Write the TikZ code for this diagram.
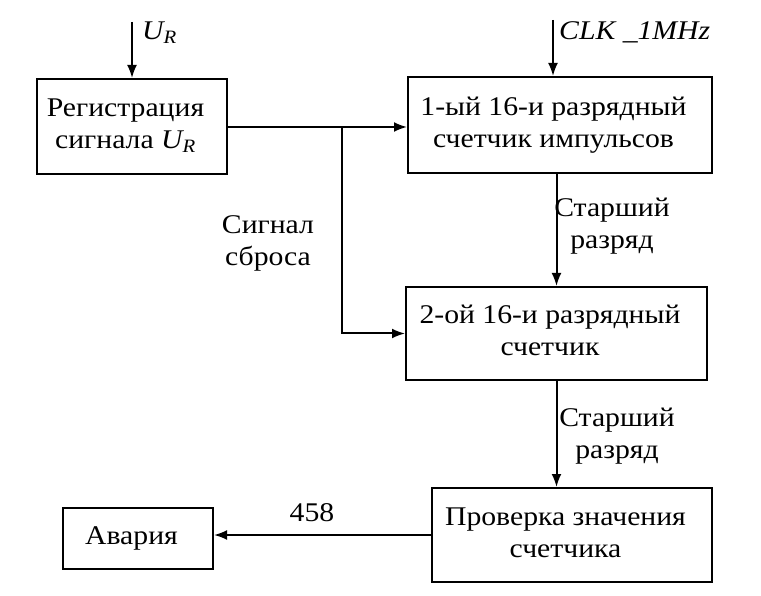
\documentclass[tikz,border=0pt]{standalone}
\usepackage{fontspec}
\usepackage{graphicx}
\setmainfont{Liberation Serif}
\usetikzlibrary{arrows.meta}
% text of the scan is a bit wider than Times
\newcommand{\wtext}[1]{\scalebox{1.1}[1]{\begin{tabular}{@{}c@{}}#1\end{tabular}}}
\begin{document}
\begin{tikzpicture}[x=1pt,y=-1pt,
    block/.style={draw, line width=2pt, inner sep=0pt, execute at begin node={\hspace*{-13pt}}},
    conn/.style={line width=2pt, -{Latex[length=13pt,width=10pt]}},
    lbl/.style={inner sep=0pt},
    font=\fontsize{27}{32}\selectfont]

    \useasboundingbox (0,0) rectangle (761,596);

    %draw blocks:
    \node[block, minimum width=190pt, minimum height=95pt] (reg) at (132,126.5) {\wtext{Регистрация\\сигнала \textit{U\textsubscript{R}}}};
    \node[block, minimum width=304pt, minimum height=96pt] (cnta) at (560,125) {\wtext{1-ый 16-и разрядный\\счетчик импульсов}};
    \node[block, minimum width=301pt, minimum height=93pt] (cntb) at (556.5,333.5) {\wtext{2-ой 16-и разрядный\\счетчик}};
    \node[block, minimum width=280pt, minimum height=94pt] (check) at (572,535) {\wtext{Проверка значения\\счетчика}};
    \node[block, minimum width=150pt, minimum height=61pt] (alarm) at (138,538.5) {\wtext{Авария}};

    %inputs:
    \coordinate (ur) at (132,22);
    \coordinate (clk) at (553,20);
    \draw[conn] (ur) -- (reg.north);
    \draw[conn] (clk) -- (clk |- cnta.north);
    \node[lbl, anchor=west] (urlbl) at (142,33) {\wtext{\textit{U\textsubscript{R}}}};
    \node[lbl, anchor=west] (clklbl) at (559,33) {\wtext{\textit{CLK \_1MHz}}};

    %connections:
    \coordinate (split) at (342,127);
    \draw[conn] (reg.east |- split) -- (cnta.west |- split);
    \draw[conn] (split) |- (cntb.west);
    \draw[conn] (cntb.north |- cnta.south) -- (cntb.north);
    \draw[conn] (cntb.south) -- (cntb.south |- check.north);
    \draw[conn] (check.west) -- (check.west -| alarm.east);

    %labels:
    \node[lbl] (rst) at (268,243) {\wtext{Сигнал\\сброса}};
    \node[lbl] (msba) at (612,226) {\wtext{Старший\\разряд}};
    \node[lbl] (msbb) at (617,436) {\wtext{Старший\\разряд}};
    \node[lbl] (val) at (312,515) {\wtext{458}};

\end{tikzpicture}
\end{document}
